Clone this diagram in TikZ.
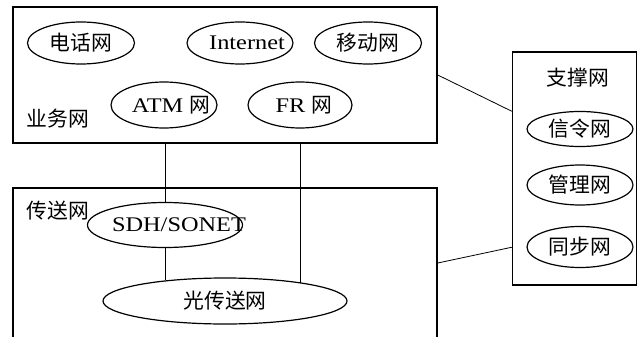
\documentclass[tikz,border=0pt]{standalone}
\usepackage{fontspec}
\setmainfont[FakeStretch=1.17]{Liberation Serif}
\newfontfamily\cj{Noto Sans CJK SC}
\usetikzlibrary{shapes.geometric,calc}
\tikzset{
  box/.style={draw, line width=1.5pt, rectangle, inner sep=0pt},
  net/.style={draw, line width=1.2pt, ellipse, inner sep=0pt},
  conn/.style={draw, line width=0.8pt},
  every node/.append style={font=\fontsize{20.8}{24}\selectfont},
  every label/.append style={font=\fontsize{20.8}{24}\selectfont, inner sep=0pt}
}
\begin{document}
\begin{tikzpicture}[x=1pt,y=-1pt]
\useasboundingbox (0,0) rectangle (637,337);
% boxes
\node[box, minimum width=424, minimum height=136] (svc) at (225,75) {};
\node[box, minimum width=424, minimum height=240, anchor=north] (trans) at (225,187) {};
\node[box, minimum width=124, minimum height=233] (sup) at (574.5,168.5) {};
% box labels
\node (svclbl) at (58,119) {\cj 业务网};
\node (trlbl) at (58,211) {\cj 传送网};
\node (suplbl) at (578,78) {\cj 支撑网};
% service networks
\node[net, minimum width=107, minimum height=42, label={center:\cj 电话网}] (tel) at (81,43) {};
\node[net, minimum width=106, minimum height=42, label={[xshift=7pt]center:Internet}] (inet) at (240,43) {};
\node[net, minimum width=107, minimum height=42, label={center:\cj 移动网}] (mob) at (368,43) {};
\node[net, minimum width=106, minimum height=46, label={[xshift=7pt]center:ATM {\cj 网}}] (atm) at (164,105) {};
\node[net, minimum width=104, minimum height=46, label={[xshift=4pt]center:FR {\cj 网}}] (fr) at (300,105) {};
% transport networks
\node[net, minimum width=155, minimum height=45, label={[xshift=14pt]center:SDH/SONET}] (sdh) at (165,225) {};
\node[net, minimum width=244, minimum height=46, label={center:\cj 光传送网}] (opt) at (225,301) {};
% support networks
\node[net, minimum width=106, minimum height=35, label={center:\cj 信令网}] (sig) at (580,129) {};
\node[net, minimum width=106, minimum height=40, label={center:\cj 管理网}] (mgmt) at (580,185) {};
\node[net, minimum width=106, minimum height=41, label={center:\cj 同步网}] (sync) at (580,247) {};
% connectors
\draw[conn] (sdh.north |- svc.south) -- (sdh.north);
\draw[conn] (sdh.south) -- (sdh.south |- opt.161.8);
\draw[conn] (fr.south |- svc.south) -- (fr.south |- opt.13.3);
\draw[conn] (svc.east) -- ($(sup.north west)+(0,60)$);
\draw[conn] ($(trans.north east)+(0,76)$) -- ($(sup.north west)+(0,196)$);
\end{tikzpicture}
\end{document}
